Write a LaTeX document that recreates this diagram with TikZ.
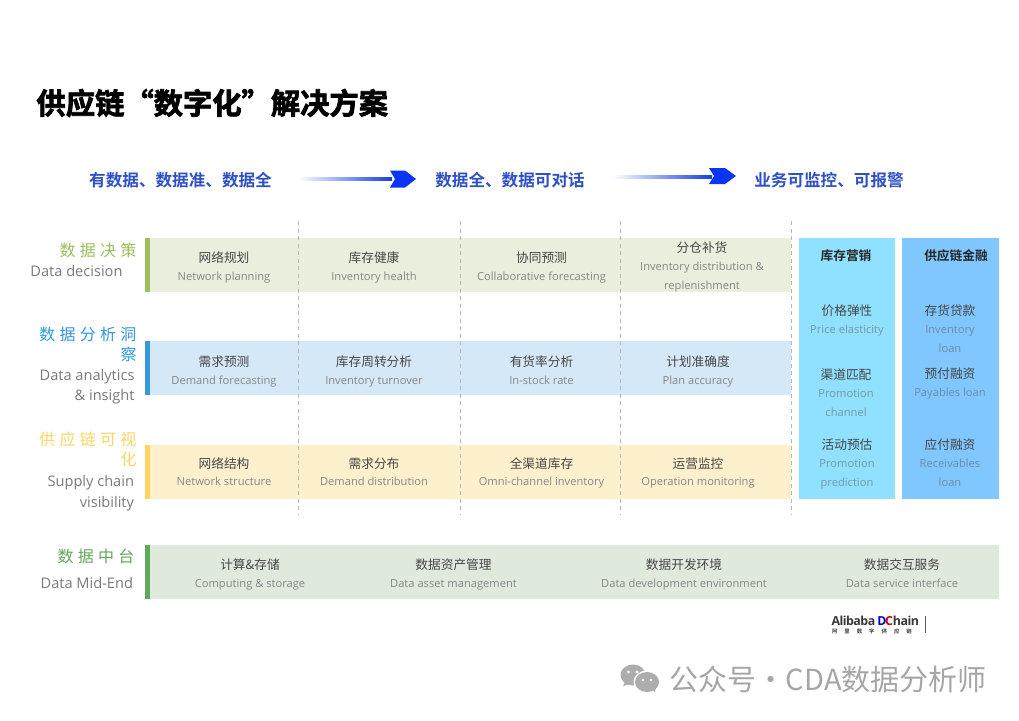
\documentclass[tikz,border=0pt]{standalone}
\usepackage{fontspec}
\setmainfont{Open Sans}
\newfontfamily\cjk{Noto Sans CJK SC}
\newfontfamily\cjkb{Noto Sans CJK SC Bold}
\newfontfamily\cjkt[FakeBold=2.5]{Noto Sans CJK SC Bold}
\newfontfamily\cjkw[LetterSpace=27]{Noto Sans CJK SC}
\usetikzlibrary{shadings}
\definecolor{bandg}{HTML}{E9EEDD}\definecolor{bandb}{HTML}{D5E8F7}
\definecolor{bandy}{HTML}{FEF0CC}\definecolor{bandm}{HTML}{DFEADD}
\definecolor{accg}{HTML}{9BBF5B}\definecolor{accb}{HTML}{3498DB}
\definecolor{accy}{HTML}{FFD45F}\definecolor{accm}{HTML}{62A85A}
\definecolor{head}{HTML}{2F50C6}\definecolor{arrowb}{HTML}{0A35F2}
\definecolor{pana}{HTML}{90E0FF}\definecolor{panb}{HTML}{80C6FF}
\tikzset{
 x=1pt,y=-1pt,
 every node/.style={inner sep=0pt,outer sep=0pt},
 band/.style={fill=#1,draw=none},
 cnt/.style={font=\cjk\fontsize{12.7}{14}\selectfont,text=black!72},
 enbase/.style={text height=8.5pt,text depth=2.5pt,font=\fontsize{11.15}{13}\selectfont},
 ent/.style={enbase,text=black!47},
 pena/.style={enbase,text=black!25!pana!60!gray},
 penb/.style={enbase,text=black!25!panb!65!gray},
 pbold/.style={font=\cjkb\fontsize{12.7}{14}\selectfont,text=black!85},
 lcn/.style={anchor=east,font=\cjkw\fontsize{16}{18}\selectfont},
 len/.style={anchor=east,text height=11pt,text depth=3pt,font=\fontsize{14.6}{17}\selectfont,text=black!52},
 headl/.style={font=\cjkb\fontsize{16.6}{19}\selectfont,text=head},
 guide/.style={draw=black!28,line width=0.9pt,dash pattern=on 4pt off 3.5pt},
}
\begin{document}
\begin{tikzpicture}
\useasboundingbox (0,0) rectangle (1019,720);
\fill[white] (0,0) rectangle (1019,720);
% title
\node[anchor=west,font=\cjkt\fontsize{29.3}{34}\selectfont,text=black] (title) at (36.5,103) {供应链“数字化”解决方案};
% headline
\node[headl] (h1) at (180.5,180.5) {有数据、数据准、数据全};
\node[headl] (h2) at (510,180.5) {数据全、数据可对话};
\node[headl] (h3) at (829,180.5) {业务可监控、可报警};
\shade[left color=white,right color=arrowb!70!head] (298,177.2) rectangle (392,180.2);
\fill[arrowb] (390,170.5) -- (405,170.5) -- (416,179) -- (405,187.5) -- (390,187.5) -- (395,179) -- cycle;
\shade[left color=white,right color=arrowb!70!head] (613,175) rectangle (712,178);
\fill[arrowb] (709,168) -- (725,168) -- (736,176) -- (725,184) -- (709,184) -- (714,176) -- cycle;
% bands
\fill[band=bandg] (145,238) rectangle (791,292);
\fill[band=bandb] (145,341) rectangle (791,395);
\fill[band=bandy] (145,445) rectangle (791,499);
\fill[band=bandm] (145,545) rectangle (999,599);
\fill[accg] (145,238) rectangle (149.5,292);
\fill[accb] (145,341) rectangle (149.5,395);
\fill[accy] (145,445) rectangle (149.5,499);
\fill[accm] (145,545) rectangle (149.5,599);
\fill[pana] (799,238) rectangle (895,499);
\fill[panb] (902,238) rectangle (999,499);
% guides
\coordinate (ga1) at (298,221);\coordinate (gb1) at (298,515);
\coordinate (ga2) at (460,221);\coordinate (gb2) at (460,515);
\coordinate (ga3) at (620.5,221);\coordinate (gb3) at (620.5,515);
\coordinate (ga4) at (791,221);\coordinate (gb4) at (791,515);
\draw[guide] (ga1)--(gb1);\draw[guide] (ga2)--(gb2);\draw[guide] (ga3)--(gb3);\draw[guide] (ga4)--(gb4);
% left labels
\node[lcn,text=accg] (l1a) at (136.5,250.5) {数据决策};
\node[len] (l1b) at (122.5,272.5) {Data decision};
\node[lcn,text=accb] (l2a) at (136.5,334.5) {数据分析洞};
\node[lcn,text=accb] (l2b) at (136.5,354.5) {察};
\node[len] (l2c) at (134.5,376) {Data analytics};
\node[len] (l2d) at (134.5,396.5) {\& insight};
\node[lcn,text=accy] (l3a) at (136.5,439.5) {供应链可视};
\node[lcn,text=accy] (l3b) at (136.5,459.5) {化};
\node[len] (l3c) at (134,482.5) {Supply chain};
\node[len] (l3d) at (134,503) {visibility};
\node[lcn,text=accm] (l4a) at (134.5,556.5) {数据中台};
\node[len] (l4b) at (133,584.5) {Data Mid-End};
% row 1
\node[cnt] (a1) at (224,258) {网络规划};\node[ent] (a1e) at (224,277) {Network planning};
\node[cnt] (a2) at (374,258) {库存健康};\node[ent] (a2e) at (374,277) {Inventory health};
\node[cnt] (a3) at (541.5,258) {协同预测};\node[ent] (a3e) at (541.5,277) {Collaborative forecasting};
\node[cnt] (a4) at (702,248) {分仓补货};\node[ent] (a4e) at (702,267) {Inventory distribution \&};\node[ent] (a4f) at (702,286) {replenishment};
% row 2
\node[cnt] (b1) at (224,362) {需求预测};\node[ent] (b1e) at (224,381) {Demand forecasting};
\node[cnt] (b2) at (374,362) {库存周转分析};\node[ent] (b2e) at (374,381) {Inventory turnover};
\node[cnt] (b3) at (541.5,362) {有货率分析};\node[ent] (b3e) at (541.5,381) {In-stock rate};
\node[cnt] (b4) at (698,362) {计划准确度};\node[ent] (b4e) at (698,381) {Plan accuracy};
% row 3
\node[cnt] (c1) at (224,463.5) {网络结构};\node[ent] (c1e) at (224,482.5) {Network structure};
\node[cnt] (c2) at (374,463.5) {需求分布};\node[ent] (c2e) at (374,482.5) {Demand distribution};
\node[cnt] (c3) at (541.5,463.5) {全渠道库存};\node[ent] (c3e) at (541.5,482.5) {Omni-channel inventory};
\node[cnt] (c4) at (698,463.5) {运营监控};\node[ent] (c4e) at (698,482.5) {Operation monitoring};
% mid-end
\node[cnt] (d1) at (250,565) {计算\&存储};\node[ent] (d1e) at (250,584) {Computing \& storage};
\node[cnt] (d2) at (453.5,565) {数据资产管理};\node[ent] (d2e) at (453.5,584) {Data asset management};
\node[cnt] (d3) at (684,565) {数据开发环境};\node[ent] (d3e) at (684,584) {Data development environment};
\node[cnt] (d4) at (902,565) {数据交互服务};\node[ent] (d4e) at (902,584) {Data service interface};
% panel a
\node[pbold] (p1) at (846,255.5) {库存营销};
\node[cnt] (p1a) at (847,311) {价格弹性};\node[pena] (p1ae) at (847,330) {Price elasticity};
\node[cnt] (p1b) at (846,374.5) {渠道匹配};\node[pena] (p1be) at (846,394) {Promotion};\node[pena] (p1bf) at (846,413) {channel};
\node[cnt] (p1c) at (847,444.5) {活动预估};\node[pena] (p1ce) at (847,464) {Promotion};\node[pena] (p1cf) at (847,483) {prediction};
% panel b
\node[pbold] (p2) at (956,255.5) {供应链金融};
\node[cnt] (p2a) at (950,311) {存货贷款};\node[penb] (p2ae) at (950,330) {Inventory};\node[penb] (p2af) at (950,349) {loan};
\node[cnt] (p2b) at (950,373.5) {预付融资};\node[penb] (p2be) at (950,393) {Payables loan};
\node[cnt] (p2c) at (950,444.5) {应付融资};\node[penb] (p2ce) at (950,464) {Receivables};\node[penb] (p2cf) at (950,483) {loan};
% logo
\node[anchor=west,font=\fontsize{12.4}{14}\selectfont\bfseries,text=black!78] (logo) at (832,620.5) {\hspace{-0.5pt}\addfontfeature{LetterSpace=-4}Alibaba\hspace{2pt}\textcolor{blue!80!black}{D}\hspace{-1.5pt}\textcolor{red!80!black}{C}hain};
\node[anchor=west,font=\cjkb\fontsize{5.4}{6}\selectfont,text=black!75] (logoc) at (832,631.5) {阿\hspace{7pt}里\hspace{7pt}数\hspace{7pt}字\hspace{7pt}供\hspace{7pt}应\hspace{7pt}链};
\fill[black!65] (924.8,616) rectangle (926,633);
% watermark
\fill[black!32] (633,675) ellipse [x radius=12.5,y radius=10.5];
\fill[black!32] (623,686) -- (626,680) -- (630,684) -- cycle;
\fill[white] (647,682) ellipse [x radius=13.5,y radius=11.5];
\fill[black!32] (647,682) ellipse [x radius=12,y radius=10];
\fill[black!32] (655,692) -- (651,688) -- (656,686) -- cycle;
\fill[white] (628.5,672) circle (1.6);\fill[white] (637,672) circle (1.6);
\fill[white] (643,680) circle (1.4);\fill[white] (651,680) circle (1.4);
\node[anchor=west,font=\cjk\fontsize{29}{30}\selectfont,text=black!35] (wm) at (669,679) {公众号\hspace{-6pt} · \hspace{-6pt}CDA数据分析师};
\end{tikzpicture}
\end{document}
